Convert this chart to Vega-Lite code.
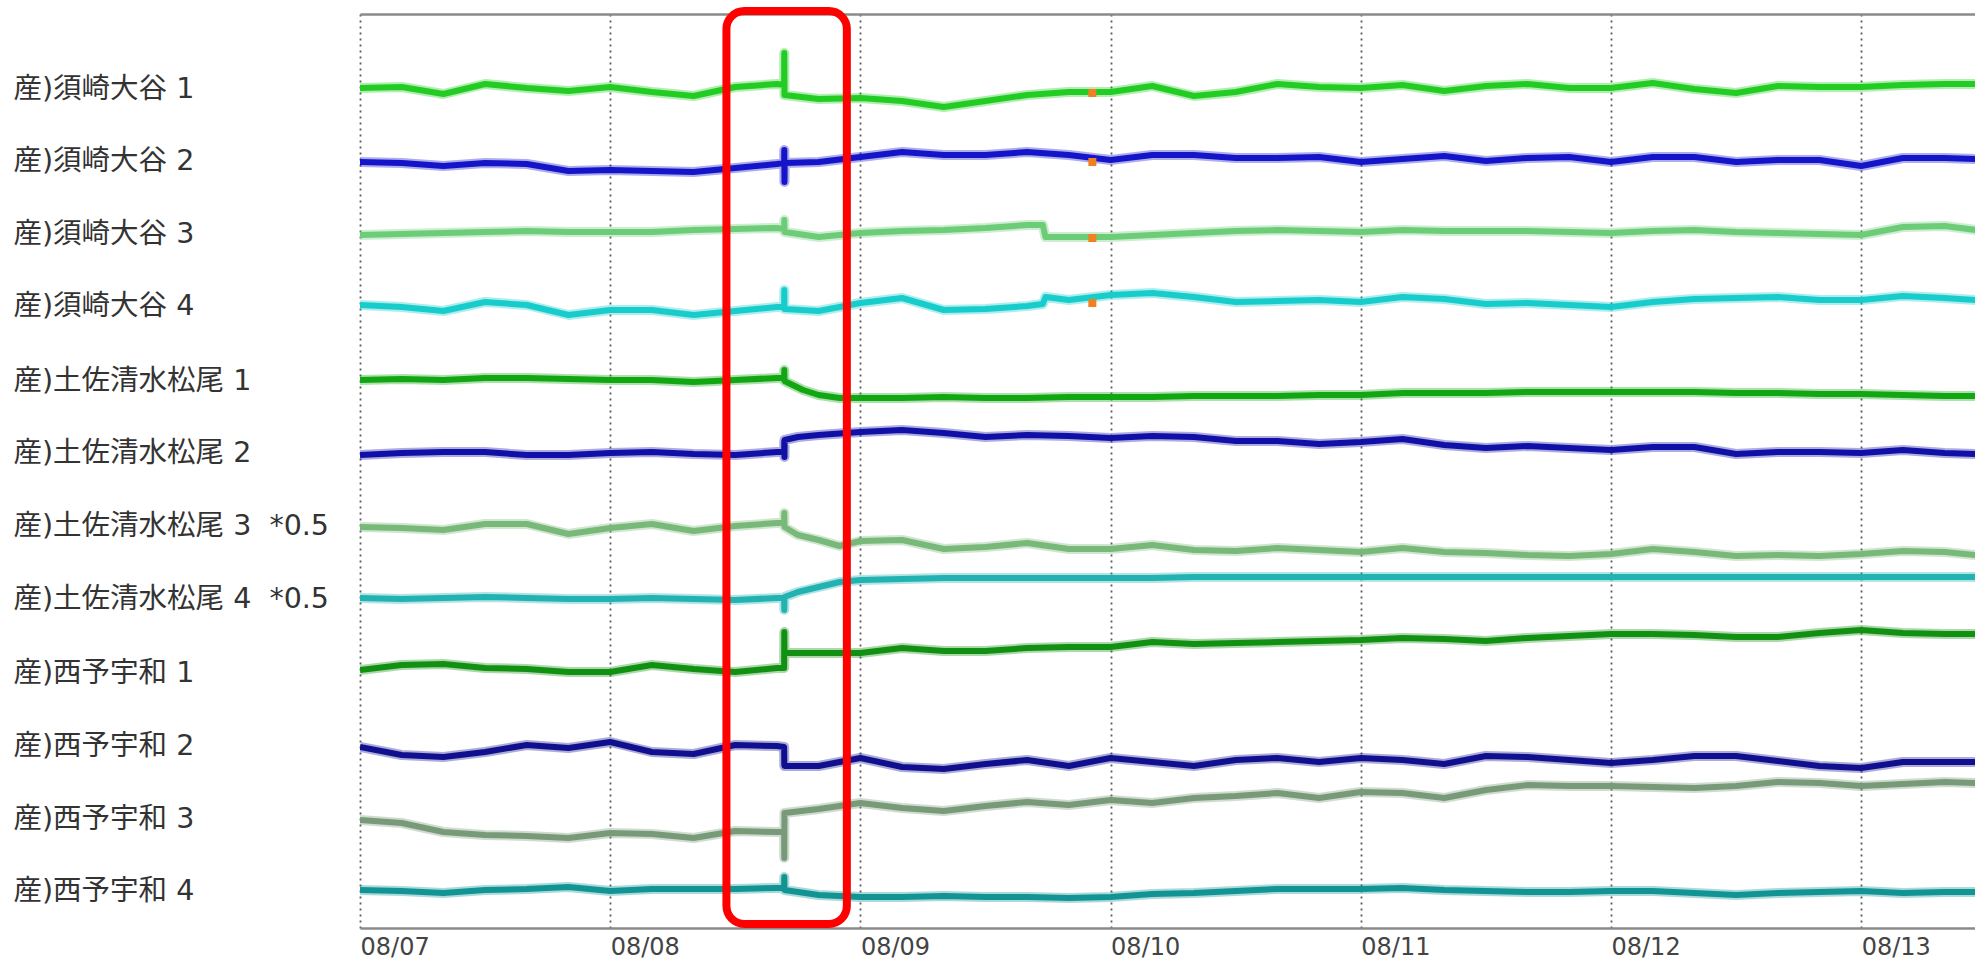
{
  "$schema": "https://vega.github.io/schema/vega-lite/v6.json",
  "width": 1615,
  "height": 914,
  "autosize": {"type": "none"},
  "padding": {"left": 360, "top": 14, "right": 0, "bottom": 32},
  "background": "white",
  "config": {"view": {"stroke": null}},
  "datasets": {
    "series": [
      {"s":1,"t":"2024-08-07T00:00","v":802},{"s":1,"t":"2024-08-07T04:00","v":803},{"s":1,"t":"2024-08-07T08:00","v":796},{"s":1,"t":"2024-08-07T12:00","v":806},{"s":1,"t":"2024-08-07T16:00","v":802},{"s":1,"t":"2024-08-07T20:00","v":799},{"s":1,"t":"2024-08-08T00:00","v":803},{"s":1,"t":"2024-08-08T04:00","v":798},{"s":1,"t":"2024-08-08T08:00","v":794},{"s":1,"t":"2024-08-08T12:00","v":803},{"s":1,"t":"2024-08-08T16:00","v":806},
      {"s":1,"t":"2024-08-08T16:41","v":805},{"s":1,"t":"2024-08-08T16:42","v":837},{"s":1,"t":"2024-08-08T16:43","v":795},
      {"s":1,"t":"2024-08-08T20:00","v":791},{"s":1,"t":"2024-08-09T00:00","v":792},{"s":1,"t":"2024-08-09T04:00","v":789},{"s":1,"t":"2024-08-09T08:00","v":783},{"s":1,"t":"2024-08-09T12:00","v":789},{"s":1,"t":"2024-08-09T16:00","v":795},{"s":1,"t":"2024-08-09T20:00","v":798},{"s":1,"t":"2024-08-10T00:00","v":798},{"s":1,"t":"2024-08-10T04:00","v":804},{"s":1,"t":"2024-08-10T08:00","v":794},{"s":1,"t":"2024-08-10T12:00","v":798},{"s":1,"t":"2024-08-10T16:00","v":806},{"s":1,"t":"2024-08-10T20:00","v":803},{"s":1,"t":"2024-08-11T00:00","v":802},{"s":1,"t":"2024-08-11T04:00","v":805},{"s":1,"t":"2024-08-11T08:00","v":799},{"s":1,"t":"2024-08-11T12:00","v":804},{"s":1,"t":"2024-08-11T16:00","v":806},{"s":1,"t":"2024-08-11T20:00","v":802},{"s":1,"t":"2024-08-12T00:00","v":802},{"s":1,"t":"2024-08-12T04:00","v":807},{"s":1,"t":"2024-08-12T08:00","v":801},{"s":1,"t":"2024-08-12T12:00","v":797},{"s":1,"t":"2024-08-12T16:00","v":804},{"s":1,"t":"2024-08-12T20:00","v":803},{"s":1,"t":"2024-08-13T00:00","v":803},{"s":1,"t":"2024-08-13T04:00","v":805},{"s":1,"t":"2024-08-13T08:00","v":806},{"s":1,"t":"2024-08-13T11:00","v":806},

      {"s":2,"t":"2024-08-07T00:00","v":728},{"s":2,"t":"2024-08-07T04:00","v":727},{"s":2,"t":"2024-08-07T08:00","v":724},{"s":2,"t":"2024-08-07T12:00","v":727},{"s":2,"t":"2024-08-07T16:00","v":726},{"s":2,"t":"2024-08-07T20:00","v":719},{"s":2,"t":"2024-08-08T00:00","v":720},{"s":2,"t":"2024-08-08T04:00","v":719},{"s":2,"t":"2024-08-08T08:00","v":718},{"s":2,"t":"2024-08-08T12:00","v":722},{"s":2,"t":"2024-08-08T16:00","v":726},
      {"s":2,"t":"2024-08-08T16:41","v":727},{"s":2,"t":"2024-08-08T16:42","v":740},{"s":2,"t":"2024-08-08T16:43","v":708},{"s":2,"t":"2024-08-08T16:44","v":727},
      {"s":2,"t":"2024-08-08T20:00","v":728},{"s":2,"t":"2024-08-09T00:00","v":733},{"s":2,"t":"2024-08-09T04:00","v":738},{"s":2,"t":"2024-08-09T08:00","v":735},{"s":2,"t":"2024-08-09T12:00","v":735},{"s":2,"t":"2024-08-09T16:00","v":738},{"s":2,"t":"2024-08-09T20:00","v":735},{"s":2,"t":"2024-08-10T00:00","v":730},{"s":2,"t":"2024-08-10T04:00","v":735},{"s":2,"t":"2024-08-10T08:00","v":735},{"s":2,"t":"2024-08-10T12:00","v":732},{"s":2,"t":"2024-08-10T16:00","v":732},{"s":2,"t":"2024-08-10T20:00","v":733},{"s":2,"t":"2024-08-11T00:00","v":728},{"s":2,"t":"2024-08-11T04:00","v":731},{"s":2,"t":"2024-08-11T08:00","v":734},{"s":2,"t":"2024-08-11T12:00","v":729},{"s":2,"t":"2024-08-11T16:00","v":732},{"s":2,"t":"2024-08-11T20:00","v":733},{"s":2,"t":"2024-08-12T00:00","v":728},{"s":2,"t":"2024-08-12T04:00","v":733},{"s":2,"t":"2024-08-12T08:00","v":733},{"s":2,"t":"2024-08-12T12:00","v":728},{"s":2,"t":"2024-08-12T16:00","v":730},{"s":2,"t":"2024-08-12T20:00","v":730},{"s":2,"t":"2024-08-13T00:00","v":724},{"s":2,"t":"2024-08-13T04:00","v":732},{"s":2,"t":"2024-08-13T08:00","v":732},{"s":2,"t":"2024-08-13T11:00","v":731},

      {"s":3,"t":"2024-08-07T00:00","v":655},{"s":3,"t":"2024-08-07T04:00","v":656},{"s":3,"t":"2024-08-07T08:00","v":657},{"s":3,"t":"2024-08-07T12:00","v":658},{"s":3,"t":"2024-08-07T16:00","v":659},{"s":3,"t":"2024-08-07T20:00","v":658},{"s":3,"t":"2024-08-08T00:00","v":658},{"s":3,"t":"2024-08-08T04:00","v":658},{"s":3,"t":"2024-08-08T08:00","v":660},{"s":3,"t":"2024-08-08T12:00","v":661},{"s":3,"t":"2024-08-08T16:00","v":662},
      {"s":3,"t":"2024-08-08T16:41","v":661},{"s":3,"t":"2024-08-08T16:42","v":670},{"s":3,"t":"2024-08-08T16:43","v":658},
      {"s":3,"t":"2024-08-08T20:00","v":653},{"s":3,"t":"2024-08-09T00:00","v":657},{"s":3,"t":"2024-08-09T04:00","v":659},{"s":3,"t":"2024-08-09T08:00","v":660},{"s":3,"t":"2024-08-09T12:00","v":662},{"s":3,"t":"2024-08-09T16:00","v":665},{"s":3,"t":"2024-08-09T17:30","v":665},{"s":3,"t":"2024-08-09T17:45","v":653},{"s":3,"t":"2024-08-09T20:00","v":653},{"s":3,"t":"2024-08-10T00:00","v":653},{"s":3,"t":"2024-08-10T04:00","v":655},{"s":3,"t":"2024-08-10T08:00","v":657},{"s":3,"t":"2024-08-10T12:00","v":659},{"s":3,"t":"2024-08-10T16:00","v":660},{"s":3,"t":"2024-08-10T20:00","v":659},{"s":3,"t":"2024-08-11T00:00","v":658},{"s":3,"t":"2024-08-11T04:00","v":660},{"s":3,"t":"2024-08-11T08:00","v":659},{"s":3,"t":"2024-08-11T12:00","v":659},{"s":3,"t":"2024-08-11T16:00","v":659},{"s":3,"t":"2024-08-11T20:00","v":658},{"s":3,"t":"2024-08-12T00:00","v":657},{"s":3,"t":"2024-08-12T04:00","v":659},{"s":3,"t":"2024-08-12T08:00","v":660},{"s":3,"t":"2024-08-12T12:00","v":658},{"s":3,"t":"2024-08-12T16:00","v":657},{"s":3,"t":"2024-08-12T20:00","v":656},{"s":3,"t":"2024-08-13T00:00","v":655},{"s":3,"t":"2024-08-13T04:00","v":663},{"s":3,"t":"2024-08-13T08:00","v":664},{"s":3,"t":"2024-08-13T11:00","v":660},

      {"s":4,"t":"2024-08-07T00:00","v":585},{"s":4,"t":"2024-08-07T04:00","v":583},{"s":4,"t":"2024-08-07T08:00","v":579},{"s":4,"t":"2024-08-07T12:00","v":588},{"s":4,"t":"2024-08-07T16:00","v":585},{"s":4,"t":"2024-08-07T20:00","v":575},{"s":4,"t":"2024-08-08T00:00","v":580},{"s":4,"t":"2024-08-08T04:00","v":580},{"s":4,"t":"2024-08-08T08:00","v":575},{"s":4,"t":"2024-08-08T12:00","v":579},{"s":4,"t":"2024-08-08T16:00","v":583},
      {"s":4,"t":"2024-08-08T16:41","v":583},{"s":4,"t":"2024-08-08T16:42","v":600},{"s":4,"t":"2024-08-08T16:43","v":581},
      {"s":4,"t":"2024-08-08T20:00","v":579},{"s":4,"t":"2024-08-09T00:00","v":587},{"s":4,"t":"2024-08-09T04:00","v":592},{"s":4,"t":"2024-08-09T08:00","v":580},{"s":4,"t":"2024-08-09T12:00","v":581},{"s":4,"t":"2024-08-09T16:00","v":584},{"s":4,"t":"2024-08-09T17:30","v":586},{"s":4,"t":"2024-08-09T17:45","v":593},{"s":4,"t":"2024-08-09T20:00","v":590},{"s":4,"t":"2024-08-10T00:00","v":595},{"s":4,"t":"2024-08-10T04:00","v":597},{"s":4,"t":"2024-08-10T08:00","v":593},{"s":4,"t":"2024-08-10T12:00","v":588},{"s":4,"t":"2024-08-10T16:00","v":589},{"s":4,"t":"2024-08-10T20:00","v":590},{"s":4,"t":"2024-08-11T00:00","v":588},{"s":4,"t":"2024-08-11T04:00","v":593},{"s":4,"t":"2024-08-11T08:00","v":591},{"s":4,"t":"2024-08-11T12:00","v":586},{"s":4,"t":"2024-08-11T16:00","v":587},{"s":4,"t":"2024-08-11T20:00","v":585},{"s":4,"t":"2024-08-12T00:00","v":583},{"s":4,"t":"2024-08-12T04:00","v":588},{"s":4,"t":"2024-08-12T08:00","v":591},{"s":4,"t":"2024-08-12T12:00","v":592},{"s":4,"t":"2024-08-12T16:00","v":593},{"s":4,"t":"2024-08-12T20:00","v":590},{"s":4,"t":"2024-08-13T00:00","v":590},{"s":4,"t":"2024-08-13T04:00","v":594},{"s":4,"t":"2024-08-13T08:00","v":592},{"s":4,"t":"2024-08-13T11:00","v":590},

      {"s":5,"t":"2024-08-07T00:00","v":510},{"s":5,"t":"2024-08-07T04:00","v":511},{"s":5,"t":"2024-08-07T08:00","v":510},{"s":5,"t":"2024-08-07T12:00","v":512},{"s":5,"t":"2024-08-07T16:00","v":512},{"s":5,"t":"2024-08-07T20:00","v":511},{"s":5,"t":"2024-08-08T00:00","v":510},{"s":5,"t":"2024-08-08T04:00","v":510},{"s":5,"t":"2024-08-08T08:00","v":508},{"s":5,"t":"2024-08-08T12:00","v":510},{"s":5,"t":"2024-08-08T16:00","v":512},
      {"s":5,"t":"2024-08-08T16:41","v":512},{"s":5,"t":"2024-08-08T16:42","v":520},{"s":5,"t":"2024-08-08T16:43","v":509},{"s":5,"t":"2024-08-08T17:30","v":505},{"s":5,"t":"2024-08-08T18:30","v":500},
      {"s":5,"t":"2024-08-08T20:00","v":495},{"s":5,"t":"2024-08-08T22:00","v":492},{"s":5,"t":"2024-08-09T00:00","v":492},{"s":5,"t":"2024-08-09T04:00","v":492},{"s":5,"t":"2024-08-09T08:00","v":493},{"s":5,"t":"2024-08-09T12:00","v":492},{"s":5,"t":"2024-08-09T16:00","v":492},{"s":5,"t":"2024-08-09T20:00","v":493},{"s":5,"t":"2024-08-10T00:00","v":493},{"s":5,"t":"2024-08-10T04:00","v":493},{"s":5,"t":"2024-08-10T08:00","v":494},{"s":5,"t":"2024-08-10T12:00","v":494},{"s":5,"t":"2024-08-10T16:00","v":494},{"s":5,"t":"2024-08-10T20:00","v":495},{"s":5,"t":"2024-08-11T00:00","v":495},{"s":5,"t":"2024-08-11T04:00","v":497},{"s":5,"t":"2024-08-11T08:00","v":497},{"s":5,"t":"2024-08-11T12:00","v":497},{"s":5,"t":"2024-08-11T16:00","v":498},{"s":5,"t":"2024-08-11T20:00","v":498},{"s":5,"t":"2024-08-12T00:00","v":498},{"s":5,"t":"2024-08-12T04:00","v":498},{"s":5,"t":"2024-08-12T08:00","v":498},{"s":5,"t":"2024-08-12T12:00","v":497},{"s":5,"t":"2024-08-12T16:00","v":497},{"s":5,"t":"2024-08-12T20:00","v":496},{"s":5,"t":"2024-08-13T00:00","v":496},{"s":5,"t":"2024-08-13T04:00","v":495},{"s":5,"t":"2024-08-13T08:00","v":494},{"s":5,"t":"2024-08-13T11:00","v":494},

      {"s":6,"t":"2024-08-07T00:00","v":435},{"s":6,"t":"2024-08-07T04:00","v":437},{"s":6,"t":"2024-08-07T08:00","v":438},{"s":6,"t":"2024-08-07T12:00","v":438},{"s":6,"t":"2024-08-07T16:00","v":435},{"s":6,"t":"2024-08-07T20:00","v":435},{"s":6,"t":"2024-08-08T00:00","v":437},{"s":6,"t":"2024-08-08T04:00","v":438},{"s":6,"t":"2024-08-08T08:00","v":436},{"s":6,"t":"2024-08-08T12:00","v":435},{"s":6,"t":"2024-08-08T16:00","v":438},
      {"s":6,"t":"2024-08-08T16:41","v":438},{"s":6,"t":"2024-08-08T16:42","v":449},{"s":6,"t":"2024-08-08T16:43","v":433},{"s":6,"t":"2024-08-08T16:44","v":450},{"s":6,"t":"2024-08-08T18:00","v":453},
      {"s":6,"t":"2024-08-08T20:00","v":455},{"s":6,"t":"2024-08-09T00:00","v":458},{"s":6,"t":"2024-08-09T04:00","v":460},{"s":6,"t":"2024-08-09T08:00","v":457},{"s":6,"t":"2024-08-09T12:00","v":453},{"s":6,"t":"2024-08-09T16:00","v":455},{"s":6,"t":"2024-08-09T20:00","v":454},{"s":6,"t":"2024-08-10T00:00","v":452},{"s":6,"t":"2024-08-10T04:00","v":454},{"s":6,"t":"2024-08-10T08:00","v":453},{"s":6,"t":"2024-08-10T12:00","v":449},{"s":6,"t":"2024-08-10T16:00","v":449},{"s":6,"t":"2024-08-10T20:00","v":446},{"s":6,"t":"2024-08-11T00:00","v":448},{"s":6,"t":"2024-08-11T04:00","v":451},{"s":6,"t":"2024-08-11T08:00","v":445},{"s":6,"t":"2024-08-11T12:00","v":442},{"s":6,"t":"2024-08-11T16:00","v":444},{"s":6,"t":"2024-08-11T20:00","v":442},{"s":6,"t":"2024-08-12T00:00","v":440},{"s":6,"t":"2024-08-12T04:00","v":443},{"s":6,"t":"2024-08-12T08:00","v":443},{"s":6,"t":"2024-08-12T12:00","v":436},{"s":6,"t":"2024-08-12T16:00","v":438},{"s":6,"t":"2024-08-12T20:00","v":438},{"s":6,"t":"2024-08-13T00:00","v":437},{"s":6,"t":"2024-08-13T04:00","v":440},{"s":6,"t":"2024-08-13T08:00","v":437},{"s":6,"t":"2024-08-13T11:00","v":436},

      {"s":7,"t":"2024-08-07T00:00","v":363},{"s":7,"t":"2024-08-07T04:00","v":362},{"s":7,"t":"2024-08-07T08:00","v":360},{"s":7,"t":"2024-08-07T12:00","v":366},{"s":7,"t":"2024-08-07T16:00","v":366},{"s":7,"t":"2024-08-07T20:00","v":356},{"s":7,"t":"2024-08-08T00:00","v":362},{"s":7,"t":"2024-08-08T04:00","v":366},{"s":7,"t":"2024-08-08T08:00","v":359},{"s":7,"t":"2024-08-08T12:00","v":364},{"s":7,"t":"2024-08-08T16:00","v":367},
      {"s":7,"t":"2024-08-08T16:41","v":367},{"s":7,"t":"2024-08-08T16:42","v":377},{"s":7,"t":"2024-08-08T16:43","v":363},{"s":7,"t":"2024-08-08T18:00","v":355},
      {"s":7,"t":"2024-08-08T20:00","v":350},{"s":7,"t":"2024-08-08T22:00","v":344},{"s":7,"t":"2024-08-09T00:00","v":349},{"s":7,"t":"2024-08-09T04:00","v":350},{"s":7,"t":"2024-08-09T08:00","v":341},{"s":7,"t":"2024-08-09T12:00","v":343},{"s":7,"t":"2024-08-09T16:00","v":347},{"s":7,"t":"2024-08-09T20:00","v":341},{"s":7,"t":"2024-08-10T00:00","v":341},{"s":7,"t":"2024-08-10T04:00","v":345},{"s":7,"t":"2024-08-10T08:00","v":340},{"s":7,"t":"2024-08-10T12:00","v":339},{"s":7,"t":"2024-08-10T16:00","v":342},{"s":7,"t":"2024-08-10T20:00","v":340},{"s":7,"t":"2024-08-11T00:00","v":338},{"s":7,"t":"2024-08-11T04:00","v":342},{"s":7,"t":"2024-08-11T08:00","v":338},{"s":7,"t":"2024-08-11T12:00","v":337},{"s":7,"t":"2024-08-11T16:00","v":335},{"s":7,"t":"2024-08-11T20:00","v":334},{"s":7,"t":"2024-08-12T00:00","v":336},{"s":7,"t":"2024-08-12T04:00","v":341},{"s":7,"t":"2024-08-12T08:00","v":338},{"s":7,"t":"2024-08-12T12:00","v":334},{"s":7,"t":"2024-08-12T16:00","v":335},{"s":7,"t":"2024-08-12T20:00","v":334},{"s":7,"t":"2024-08-13T00:00","v":336},{"s":7,"t":"2024-08-13T04:00","v":339},{"s":7,"t":"2024-08-13T08:00","v":338},{"s":7,"t":"2024-08-13T11:00","v":335},

      {"s":8,"t":"2024-08-07T00:00","v":292},{"s":8,"t":"2024-08-07T04:00","v":291},{"s":8,"t":"2024-08-07T08:00","v":292},{"s":8,"t":"2024-08-07T12:00","v":293},{"s":8,"t":"2024-08-07T16:00","v":292},{"s":8,"t":"2024-08-07T20:00","v":291},{"s":8,"t":"2024-08-08T00:00","v":291},{"s":8,"t":"2024-08-08T04:00","v":292},{"s":8,"t":"2024-08-08T08:00","v":291},{"s":8,"t":"2024-08-08T12:00","v":290},{"s":8,"t":"2024-08-08T16:00","v":292},
      {"s":8,"t":"2024-08-08T16:41","v":292},{"s":8,"t":"2024-08-08T16:42","v":280},{"s":8,"t":"2024-08-08T16:43","v":293},{"s":8,"t":"2024-08-08T18:00","v":298},
      {"s":8,"t":"2024-08-08T20:00","v":303},{"s":8,"t":"2024-08-08T22:00","v":308},{"s":8,"t":"2024-08-09T00:00","v":310},{"s":8,"t":"2024-08-09T04:00","v":311},{"s":8,"t":"2024-08-09T08:00","v":312},{"s":8,"t":"2024-08-09T12:00","v":312},{"s":8,"t":"2024-08-09T16:00","v":312},{"s":8,"t":"2024-08-09T20:00","v":312},{"s":8,"t":"2024-08-10T00:00","v":312},{"s":8,"t":"2024-08-10T04:00","v":312},{"s":8,"t":"2024-08-10T08:00","v":313},{"s":8,"t":"2024-08-10T12:00","v":313},{"s":8,"t":"2024-08-10T16:00","v":313},{"s":8,"t":"2024-08-10T20:00","v":313},{"s":8,"t":"2024-08-11T00:00","v":313},{"s":8,"t":"2024-08-11T04:00","v":313},{"s":8,"t":"2024-08-11T08:00","v":313},{"s":8,"t":"2024-08-11T12:00","v":313},{"s":8,"t":"2024-08-11T16:00","v":313},{"s":8,"t":"2024-08-11T20:00","v":313},{"s":8,"t":"2024-08-12T00:00","v":313},{"s":8,"t":"2024-08-12T04:00","v":313},{"s":8,"t":"2024-08-12T08:00","v":313},{"s":8,"t":"2024-08-12T12:00","v":313},{"s":8,"t":"2024-08-12T16:00","v":313},{"s":8,"t":"2024-08-12T20:00","v":313},{"s":8,"t":"2024-08-13T00:00","v":313},{"s":8,"t":"2024-08-13T04:00","v":313},{"s":8,"t":"2024-08-13T08:00","v":313},{"s":8,"t":"2024-08-13T11:00","v":313},

      {"s":9,"t":"2024-08-07T00:00","v":220},{"s":9,"t":"2024-08-07T04:00","v":225},{"s":9,"t":"2024-08-07T08:00","v":226},{"s":9,"t":"2024-08-07T12:00","v":222},{"s":9,"t":"2024-08-07T16:00","v":221},{"s":9,"t":"2024-08-07T20:00","v":218},{"s":9,"t":"2024-08-08T00:00","v":218},{"s":9,"t":"2024-08-08T04:00","v":225},{"s":9,"t":"2024-08-08T08:00","v":221},{"s":9,"t":"2024-08-08T12:00","v":218},{"s":9,"t":"2024-08-08T16:00","v":222},
      {"s":9,"t":"2024-08-08T16:41","v":222},{"s":9,"t":"2024-08-08T16:42","v":258},{"s":9,"t":"2024-08-08T16:43","v":237},
      {"s":9,"t":"2024-08-08T20:00","v":237},{"s":9,"t":"2024-08-09T00:00","v":237},{"s":9,"t":"2024-08-09T04:00","v":242},{"s":9,"t":"2024-08-09T08:00","v":239},{"s":9,"t":"2024-08-09T12:00","v":239},{"s":9,"t":"2024-08-09T16:00","v":242},{"s":9,"t":"2024-08-09T20:00","v":243},{"s":9,"t":"2024-08-10T00:00","v":243},{"s":9,"t":"2024-08-10T04:00","v":248},{"s":9,"t":"2024-08-10T08:00","v":246},{"s":9,"t":"2024-08-10T12:00","v":247},{"s":9,"t":"2024-08-10T16:00","v":248},{"s":9,"t":"2024-08-10T20:00","v":249},{"s":9,"t":"2024-08-11T00:00","v":250},{"s":9,"t":"2024-08-11T04:00","v":252},{"s":9,"t":"2024-08-11T08:00","v":251},{"s":9,"t":"2024-08-11T12:00","v":249},{"s":9,"t":"2024-08-11T16:00","v":252},{"s":9,"t":"2024-08-11T20:00","v":254},{"s":9,"t":"2024-08-12T00:00","v":256},{"s":9,"t":"2024-08-12T04:00","v":256},{"s":9,"t":"2024-08-12T08:00","v":255},{"s":9,"t":"2024-08-12T12:00","v":253},{"s":9,"t":"2024-08-12T16:00","v":253},{"s":9,"t":"2024-08-12T20:00","v":257},{"s":9,"t":"2024-08-13T00:00","v":260},{"s":9,"t":"2024-08-13T04:00","v":257},{"s":9,"t":"2024-08-13T08:00","v":256},{"s":9,"t":"2024-08-13T11:00","v":256},

      {"s":10,"t":"2024-08-07T00:00","v":143},{"s":10,"t":"2024-08-07T04:00","v":135},{"s":10,"t":"2024-08-07T08:00","v":133},{"s":10,"t":"2024-08-07T12:00","v":138},{"s":10,"t":"2024-08-07T16:00","v":145},{"s":10,"t":"2024-08-07T20:00","v":142},{"s":10,"t":"2024-08-08T00:00","v":148},{"s":10,"t":"2024-08-08T04:00","v":138},{"s":10,"t":"2024-08-08T08:00","v":136},{"s":10,"t":"2024-08-08T12:00","v":145},{"s":10,"t":"2024-08-08T16:00","v":144},
      {"s":10,"t":"2024-08-08T16:41","v":143},{"s":10,"t":"2024-08-08T16:42","v":125},{"s":10,"t":"2024-08-08T16:43","v":124},
      {"s":10,"t":"2024-08-08T20:00","v":124},{"s":10,"t":"2024-08-09T00:00","v":132},{"s":10,"t":"2024-08-09T04:00","v":123},{"s":10,"t":"2024-08-09T08:00","v":121},{"s":10,"t":"2024-08-09T12:00","v":126},{"s":10,"t":"2024-08-09T16:00","v":130},{"s":10,"t":"2024-08-09T20:00","v":124},{"s":10,"t":"2024-08-10T00:00","v":132},{"s":10,"t":"2024-08-10T04:00","v":128},{"s":10,"t":"2024-08-10T08:00","v":124},{"s":10,"t":"2024-08-10T12:00","v":130},{"s":10,"t":"2024-08-10T16:00","v":132},{"s":10,"t":"2024-08-10T20:00","v":128},{"s":10,"t":"2024-08-11T00:00","v":132},{"s":10,"t":"2024-08-11T04:00","v":130},{"s":10,"t":"2024-08-11T08:00","v":126},{"s":10,"t":"2024-08-11T12:00","v":134},{"s":10,"t":"2024-08-11T16:00","v":133},{"s":10,"t":"2024-08-11T20:00","v":130},{"s":10,"t":"2024-08-12T00:00","v":127},{"s":10,"t":"2024-08-12T04:00","v":130},{"s":10,"t":"2024-08-12T08:00","v":134},{"s":10,"t":"2024-08-12T12:00","v":134},{"s":10,"t":"2024-08-12T16:00","v":129},{"s":10,"t":"2024-08-12T20:00","v":124},{"s":10,"t":"2024-08-13T00:00","v":122},{"s":10,"t":"2024-08-13T04:00","v":128},{"s":10,"t":"2024-08-13T08:00","v":128},{"s":10,"t":"2024-08-13T11:00","v":128},

      {"s":11,"t":"2024-08-07T00:00","v":70},{"s":11,"t":"2024-08-07T04:00","v":67},{"s":11,"t":"2024-08-07T08:00","v":58},{"s":11,"t":"2024-08-07T12:00","v":55},{"s":11,"t":"2024-08-07T16:00","v":54},{"s":11,"t":"2024-08-07T20:00","v":52},{"s":11,"t":"2024-08-08T00:00","v":57},{"s":11,"t":"2024-08-08T04:00","v":56},{"s":11,"t":"2024-08-08T08:00","v":52},{"s":11,"t":"2024-08-08T12:00","v":59},{"s":11,"t":"2024-08-08T16:00","v":58},
      {"s":11,"t":"2024-08-08T16:41","v":58},{"s":11,"t":"2024-08-08T16:42","v":32},{"s":11,"t":"2024-08-08T16:43","v":77},
      {"s":11,"t":"2024-08-08T20:00","v":81},{"s":11,"t":"2024-08-09T00:00","v":87},{"s":11,"t":"2024-08-09T04:00","v":82},{"s":11,"t":"2024-08-09T08:00","v":79},{"s":11,"t":"2024-08-09T12:00","v":84},{"s":11,"t":"2024-08-09T16:00","v":88},{"s":11,"t":"2024-08-09T20:00","v":85},{"s":11,"t":"2024-08-10T00:00","v":90},{"s":11,"t":"2024-08-10T04:00","v":87},{"s":11,"t":"2024-08-10T08:00","v":92},{"s":11,"t":"2024-08-10T12:00","v":94},{"s":11,"t":"2024-08-10T16:00","v":97},{"s":11,"t":"2024-08-10T20:00","v":92},{"s":11,"t":"2024-08-11T00:00","v":98},{"s":11,"t":"2024-08-11T04:00","v":97},{"s":11,"t":"2024-08-11T08:00","v":92},{"s":11,"t":"2024-08-11T12:00","v":100},{"s":11,"t":"2024-08-11T16:00","v":105},{"s":11,"t":"2024-08-11T20:00","v":104},{"s":11,"t":"2024-08-12T00:00","v":104},{"s":11,"t":"2024-08-12T04:00","v":103},{"s":11,"t":"2024-08-12T08:00","v":102},{"s":11,"t":"2024-08-12T12:00","v":104},{"s":11,"t":"2024-08-12T16:00","v":108},{"s":11,"t":"2024-08-12T20:00","v":107},{"s":11,"t":"2024-08-13T00:00","v":104},{"s":11,"t":"2024-08-13T04:00","v":106},{"s":11,"t":"2024-08-13T08:00","v":108},{"s":11,"t":"2024-08-13T11:00","v":107},

      {"s":12,"t":"2024-08-07T00:00","v":0},{"s":12,"t":"2024-08-07T04:00","v":-1},{"s":12,"t":"2024-08-07T08:00","v":-3},{"s":12,"t":"2024-08-07T12:00","v":0},{"s":12,"t":"2024-08-07T16:00","v":1},{"s":12,"t":"2024-08-07T20:00","v":3},{"s":12,"t":"2024-08-08T00:00","v":-1},{"s":12,"t":"2024-08-08T04:00","v":1},{"s":12,"t":"2024-08-08T08:00","v":1},{"s":12,"t":"2024-08-08T12:00","v":1},{"s":12,"t":"2024-08-08T16:00","v":2},
      {"s":12,"t":"2024-08-08T16:41","v":2},{"s":12,"t":"2024-08-08T16:42","v":13},{"s":12,"t":"2024-08-08T16:43","v":0},
      {"s":12,"t":"2024-08-08T20:00","v":-5},{"s":12,"t":"2024-08-09T00:00","v":-7},{"s":12,"t":"2024-08-09T04:00","v":-7},{"s":12,"t":"2024-08-09T08:00","v":-6},{"s":12,"t":"2024-08-09T12:00","v":-7},{"s":12,"t":"2024-08-09T16:00","v":-7},{"s":12,"t":"2024-08-09T20:00","v":-8},{"s":12,"t":"2024-08-10T00:00","v":-7},{"s":12,"t":"2024-08-10T04:00","v":-4},{"s":12,"t":"2024-08-10T08:00","v":-3},{"s":12,"t":"2024-08-10T12:00","v":-1},{"s":12,"t":"2024-08-10T16:00","v":1},{"s":12,"t":"2024-08-10T20:00","v":1},{"s":12,"t":"2024-08-11T00:00","v":1},{"s":12,"t":"2024-08-11T04:00","v":2},{"s":12,"t":"2024-08-11T08:00","v":0},{"s":12,"t":"2024-08-11T12:00","v":-1},{"s":12,"t":"2024-08-11T16:00","v":-2},{"s":12,"t":"2024-08-11T20:00","v":-2},{"s":12,"t":"2024-08-12T00:00","v":-1},{"s":12,"t":"2024-08-12T04:00","v":-1},{"s":12,"t":"2024-08-12T08:00","v":-3},{"s":12,"t":"2024-08-12T12:00","v":-5},{"s":12,"t":"2024-08-12T16:00","v":-3},{"s":12,"t":"2024-08-12T20:00","v":-2},{"s":12,"t":"2024-08-13T00:00","v":-1},{"s":12,"t":"2024-08-13T04:00","v":-3},{"s":12,"t":"2024-08-13T08:00","v":-2},{"s":12,"t":"2024-08-13T11:00","v":-2}
    ],
    "markers": [
      {"s":1,"t":"2024-08-09T22:15","v":797},
      {"s":2,"t":"2024-08-09T22:15","v":728},
      {"s":3,"t":"2024-08-09T22:15","v":652},
      {"s":4,"t":"2024-08-09T22:15","v":587}
    ],
    "box": [
      {"t1":"2024-08-08T11:09","t2":"2024-08-08T22:42","v1":879,"v2":-34}
    ]
  },
  "resolve": {"axis": {"x": "independent", "y": "independent"}},
  "layer": [
    {
      "data": {"name": "series"},
      "mark": {"type": "line", "strokeWidth": 10, "strokeJoin": "round", "opacity": 0.35, "clip": true},
      "encoding": {
        "x": {
          "field": "t", "type": "temporal",
          "scale": {"domain": [{"year":2024,"month":8,"date":7,"hours":0},{"year":2024,"month":8,"date":13,"hours":10,"minutes":55}]},
          "axis": {
            "orient": "bottom", "title": null,
            "values": [{"year":2024,"month":8,"date":7},{"year":2024,"month":8,"date":8},{"year":2024,"month":8,"date":9},{"year":2024,"month":8,"date":10},{"year":2024,"month":8,"date":11},{"year":2024,"month":8,"date":12},{"year":2024,"month":8,"date":13}],
            "format": "%m/%d", "labelAlign": "left", "labelBaseline": "top", "labelPadding": 7, "labelFlush": false, "labelOverlap": false,
            "labelFont": "DejaVu Sans", "labelFontSize": 24, "labelColor": "#444444",
            "ticks": false, "tickSize": 0,
            "grid": true, "gridColor": "#5a5a5a", "gridDash": [2, 4], "gridWidth": 1.8, "gridOpacity": 1,
            "domain": true, "domainColor": "#8a8a8a", "domainWidth": 2.5
          }
        },
        "y": {
          "field": "v", "type": "quantitative",
          "scale": {"domain": [-38, 876], "nice": false, "zero": false},
          "axis": {
            "orient": "left", "title": null,
            "values": [802, 730, 657, 585, 510, 438, 365, 292, 218, 145, 72, 0],
            "labelExpr": "['産)須崎大谷 1','産)須崎大谷 2','産)須崎大谷 3','産)須崎大谷 4','産)土佐清水松尾 1','産)土佐清水松尾 2','産)土佐清水松尾 3\u00a0\u00a0*0.5','産)土佐清水松尾 4\u00a0\u00a0*0.5','産)西予宇和 1','産)西予宇和 2','産)西予宇和 3','産)西予宇和 4'][indexof([802,730,657,585,510,438,365,292,218,145,72,0], datum.value)]",
            "labelAlign": "left", "labelBaseline": "middle", "labelPadding": 347, "labelLimit": 400, "labelOverlap": false,
            "labelFont": "DejaVu Sans, Noto Sans CJK JP", "labelFontSize": 28.5, "labelColor": "#333333",
            "ticks": false, "tickSize": 0, "domain": false, "grid": false
          }
        },
        "color": {
          "field": "s", "type": "nominal", "legend": null,
          "scale": {
            "domain": [1,2,3,4,5,6,7,8,9,10,11,12],
            "range": ["#22cc22", "#1414c8", "#6ccc78", "#18cccc", "#12a612", "#1010a6", "#78b878", "#22b2b2", "#129012", "#10108e", "#789a78", "#129494"]
          }
        }
      }
    },
    {
      "data": {"name": "series"},
      "mark": {"type": "line", "strokeWidth": 6, "strokeJoin": "round", "clip": true},
      "encoding": {
        "x": {"field": "t", "type": "temporal", "axis": null},
        "y": {"field": "v", "type": "quantitative", "axis": null},
        "color": {"field": "s", "type": "nominal", "legend": null}
      }
    },
    {
      "data": {"name": "markers"},
      "mark": {"type": "point", "shape": "square", "filled": true, "size": 64, "color": "#f08020", "opacity": 1},
      "encoding": {
        "x": {"field": "t", "type": "temporal", "axis": null},
        "y": {"field": "v", "type": "quantitative", "axis": null}
      }
    },
    {
      "data": {"name": "box"},
      "mark": {"type": "rect", "filled": false, "color": "#ff0000", "strokeWidth": 8, "cornerRadius": 18},
      "encoding": {
        "x": {"field": "t1", "type": "temporal", "axis": {"orient": "top", "labels": false, "ticks": false, "grid": false, "domain": true, "domainColor": "#8a8a8a", "domainWidth": 2.5, "title": null}},
        "x2": {"field": "t2"},
        "y": {"field": "v1", "type": "quantitative", "axis": null},
        "y2": {"field": "v2"}
      }
    }
  ]
}
